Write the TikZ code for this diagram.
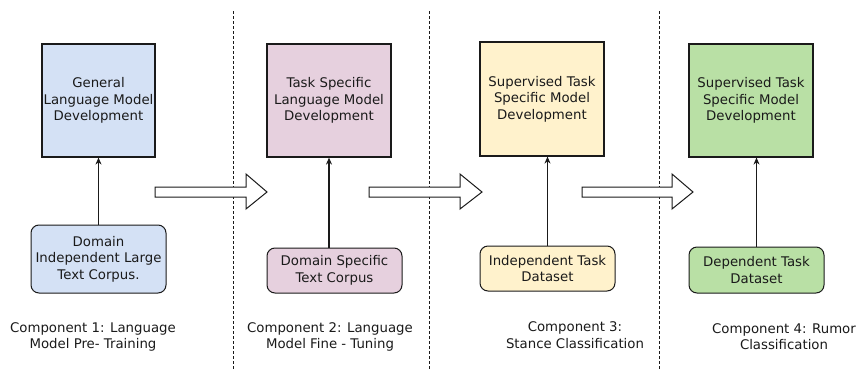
\documentclass[tikz,border=0pt]{standalone}
\usepackage{fontspec}
\setmainfont{DejaVu Sans}
\usetikzlibrary{arrows.meta}
\definecolor{cblue}{HTML}{D4E1F5}
\definecolor{cpink}{HTML}{E6D0DE}
\definecolor{cyel}{HTML}{FFF2CC}
\definecolor{cgreen}{HTML}{B9E0A5}
\definecolor{cline}{HTML}{1A1A1A}
\tikzset{
  topbox/.style={draw=cline, line width=1.2pt, minimum height=113pt, align=center, inner sep=0pt, font=\fontsize{13.3}{16.5}\selectfont, text=cline},
  botbox/.style={draw=cline, line width=1pt, rounded corners=8pt, align=center, inner sep=0pt, minimum width=135pt, font=\fontsize{13.3}{16.5}\selectfont, text=cline},
  caption/.style={align=center, font=\fontsize{13.3}{16.5}\selectfont, text=cline},
  uparrow/.style={draw=cline, -{Stealth[length=7pt,width=6pt]}},
  sep/.style={draw=cline, line width=1pt, dash pattern=on 3pt off 2pt},
  blockarrow/.style={draw=cline, fill=white, line width=1pt, line join=miter}
}
\begin{document}
\begin{tikzpicture}[x=1pt,y=-1pt]
\useasboundingbox (0,0) rectangle (857,370);
% separators
\draw[sep] (233,11) -- (233,370);
\draw[sep] (429,11) -- (429,370);
\draw[sep] (659,11) -- (659,370);
% top boxes
\node[topbox, fill=cblue, minimum width=113pt] (t1) at (98.5,100.5) {General\\Language Model\\Development};
\node[topbox, fill=cpink, minimum width=124pt] (t2) at (329,100.5) {Task Specific\\Language Model\\Development};
\node[topbox, fill=cyel, minimum width=124pt, minimum height=114pt] (t3) at (542,99) {Supervised Task\\Specific Model\\Development};
\node[topbox, fill=cgreen, minimum width=124pt] (t4) at (751,100.5) {Supervised Task\\Specific Model\\Development};
% bottom boxes
\node[botbox, fill=cblue, minimum height=68pt] (b1) at (98.5,259) {Domain\\Independent Large\\Text Corpus.};
\node[botbox, fill=cpink, minimum height=45pt] (b2) at (334.5,270.5) {Domain Specific\\Text Corpus};
\node[botbox, fill=cyel, minimum height=45pt] (b3) at (547.5,268.5) {Independent Task\\Dataset};
\node[botbox, fill=cgreen, minimum height=46pt] (b4) at (756.5,270) {Dependent Task\\Dataset};
% vertical arrows
\draw[uparrow, line width=0.8pt] (b1.north) -- (t1.south);
\draw[uparrow, line width=1.3pt] (t2.south |- b2.north) -- (t2.south);
\draw[uparrow, line width=0.8pt] (b3.north) -- (b3.north |- t3.south);
\draw[uparrow, line width=0.8pt] (b4.north) -- (b4.north |- t4.south);
% block arrows
\draw[blockarrow] (155,187) -- (246,187) -- (246,174) -- (267,192) -- (246,209) -- (246,197) -- (155,197) -- cycle;
\draw[blockarrow] (369,187) -- (460,187) -- (460,174) -- (482,192) -- (460,209) -- (460,197) -- (369,197) -- cycle;
\draw[blockarrow] (582,187) -- (672,187) -- (672,174) -- (693,192) -- (672,209) -- (672,197) -- (582,197) -- cycle;
% captions
\node[caption] (c1) at (93,337) {Component 1: Language\\Model Pre- Training};
\node[caption] (c2) at (330,337) {Component 2: Language\\Model Fine - Tuning};
\node[caption] (c3) at (575,335) {Component 3:\\Stance Classification};
\node[caption] (c4) at (784,336.5) {Component 4: Rumor\\Classification};
\end{tikzpicture}
\end{document}
